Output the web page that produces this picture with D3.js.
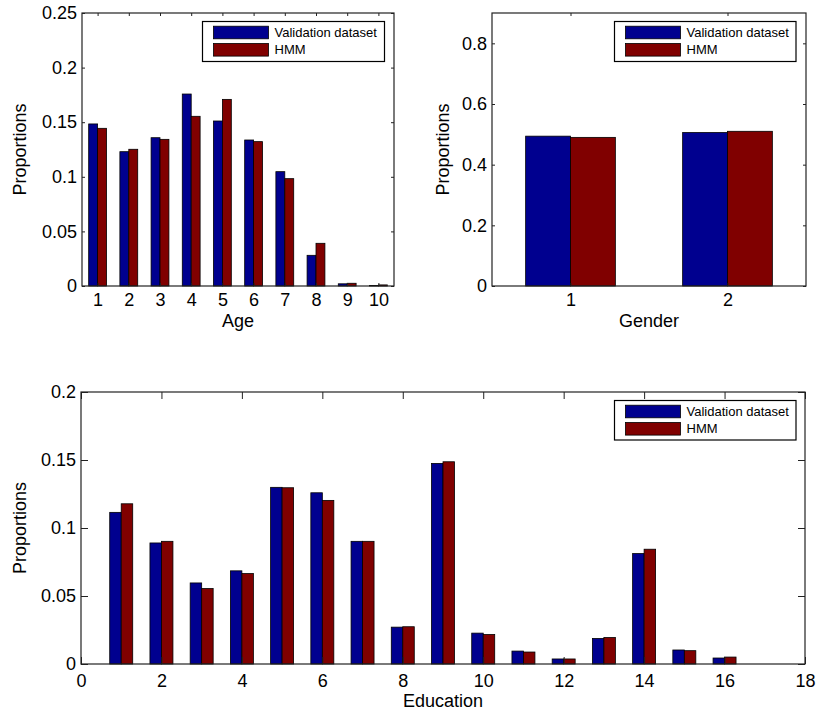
<!DOCTYPE html>
<html>
<head>
<meta charset="utf-8">
<script src="https://cdn.jsdelivr.net/npm/d3@7"></script>
<style>
  body { margin: 0; background: #fff; }
  text { font-family: "Liberation Sans", Arial, Helvetica, sans-serif; fill: #000; }
</style>
</head>
<body>
<svg width="816" height="713"></svg>
<script>
'use strict';

// data
var seriesNames = ['Validation dataset', 'HMM'];
var seriesColors = ['#00008f', '#800000'];

var ageCats = [1, 2, 3, 4, 5, 6, 7, 8, 9, 10];
var ageValidation = [0.1484, 0.1230, 0.1358, 0.1758, 0.1511, 0.1337, 0.1047, 0.0281, 0.0020, 0.0005];
var ageHmm = [0.1444, 0.1252, 0.1343, 0.1554, 0.1709, 0.1322, 0.0983, 0.0391, 0.0025, 0.0010];
var ageXTicks = [1, 2, 3, 4, 5, 6, 7, 8, 9, 10];
var ageYTicks = [0, 0.05, 0.1, 0.15, 0.2, 0.25];

var genderCats = [1, 2];
var genderValidation = [0.494, 0.506];
var genderHmm = [0.490, 0.510];
var genderXTicks = [1, 2];
var genderYTicks = [0, 0.2, 0.4, 0.6, 0.8];

var eduCats = [1, 2, 3, 4, 5, 6, 7, 8, 9, 10, 11, 12, 13, 14, 15, 16];
var eduValidation = [0.1115, 0.0890, 0.0596, 0.0685, 0.1299, 0.1259, 0.0902, 0.0271,
  0.1475, 0.0227, 0.0095, 0.0037, 0.0188, 0.0812, 0.0103, 0.0044];
var eduHmm = [0.1178, 0.0902, 0.0555, 0.0665, 0.1296, 0.1203, 0.0902, 0.0274,
  0.1487, 0.0217, 0.0088, 0.0037, 0.0195, 0.0844, 0.0098, 0.0051];
var eduXTicks = [0, 2, 4, 6, 8, 10, 12, 14, 16, 18];
var eduYTicks = [0, 0.05, 0.1, 0.15, 0.2];

var svg = d3.select('svg');
var barW = 2 / 7; // each bar, in x units (matlab grouped bar)
var fontSize = '18px';

function fmt(d) { return String(+d.toFixed(3)); }

function panel(p) {
  var x = d3.scaleLinear().domain(p.xDomain).range([p.left, p.right]);
  var y = d3.scaleLinear().domain(p.yDomain).range([p.bottom, p.top]);
  var g = svg.append('g');

  var rows = p.cats.map(function (c, i) { return { c: c, v: [p.a[i], p.b[i]] }; });
  [0, 1].forEach(function (s) {
    g.append('g').selectAll('rect')
      .data(rows)
      .enter()
      .append('rect')
      .attr('x', function (d) { return x(d.c + (s - 1) * barW); })
      .attr('y', function (d) { return y(d.v[s]); })
      .attr('width', function (d) { return x(d.c + s * barW) - x(d.c + (s - 1) * barW); })
      .attr('height', function (d) { return y(0) - y(d.v[s]); })
      .attr('fill', seriesColors[s])
      .attr('stroke', '#000')
      .attr('stroke-width', 0.8);
  });

  var tl = p.tickLen;
  function styleAxis(sel) {
    sel.select('.domain').remove();
    sel.selectAll('line').attr('stroke', '#222');
    sel.selectAll('text').style('font-size', fontSize)
      .style('font-family', '"Liberation Sans", Arial, Helvetica, sans-serif');
  }

  g.append('g').attr('transform', 'translate(0,' + p.bottom + ')')
    .call(d3.axisBottom(x).tickValues(p.xTicks).tickFormat(fmt).tickSizeInner(-tl).tickSizeOuter(0).tickPadding(p.xPad))
    .call(styleAxis);
  g.append('g').attr('transform', 'translate(0,' + p.top + ')')
    .call(d3.axisTop(x).tickValues(p.xTicks).tickFormat('').tickSizeInner(-tl).tickSizeOuter(0))
    .call(styleAxis);
  g.append('g').attr('transform', 'translate(' + p.left + ',0)')
    .call(d3.axisLeft(y).tickValues(p.yTicks).tickFormat(fmt).tickSizeInner(-tl).tickSizeOuter(0).tickPadding(5))
    .call(styleAxis);
  g.append('g').attr('transform', 'translate(' + p.right + ',0)')
    .call(d3.axisRight(y).tickValues(p.yTicks).tickFormat('').tickSizeInner(-tl).tickSizeOuter(0))
    .call(styleAxis);

  g.append('rect')
    .attr('x', p.left).attr('y', p.top)
    .attr('width', p.right - p.left).attr('height', p.bottom - p.top)
    .attr('fill', 'none').attr('stroke', '#222').attr('stroke-width', 1.2);

  g.append('text')
    .attr('x', (p.left + p.right) / 2)
    .attr('y', p.xLabelY)
    .attr('text-anchor', 'middle')
    .style('font-size', fontSize)
    .text(p.xLabel);

  g.append('text')
    .attr('transform', 'translate(' + p.yLabelX + ',' + (p.top + p.bottom) / 2 + ') rotate(-90)')
    .attr('text-anchor', 'middle')
    .style('font-size', fontSize)
    .text('Proportions');

  // legend
  var L = p.legend;
  var lg = g.append('g').attr('transform', 'translate(' + L.x + ',' + L.y + ')');
  lg.append('rect').attr('width', L.w).attr('height', L.h)
    .attr('fill', '#fff').attr('stroke', '#000').attr('stroke-width', 1.2);
  var item = lg.selectAll('g.item')
    .data(seriesNames)
    .enter()
    .append('g')
    .attr('class', 'item')
    .attr('transform', function (d, i) { return 'translate(0,' + (11 + i * 17.3) + ')'; });
  item.append('rect')
    .attr('x', 11).attr('y', -6.3)
    .attr('width', 55).attr('height', 12.6)
    .attr('fill', function (d, i) { return seriesColors[i]; })
    .attr('stroke', '#000').attr('stroke-width', 0.8);
  item.append('text')
    .attr('x', 72)
    .attr('dy', '0.35em')
    .style('font-size', '13px')
    .text(function (d) { return d; });
}

panel({
  left: 82, right: 394, top: 13, bottom: 286,
  xDomain: [0.5, 10.5], yDomain: [0, 0.25],
  cats: ageCats, a: ageValidation, b: ageHmm,
  xTicks: ageXTicks, yTicks: ageYTicks, tickLen: 3, xPad: 7,
  xLabel: 'Age', xLabelY: 327, yLabelX: 26,
  legend: { x: 202.5, y: 21.5, w: 182, h: 40 }
});

panel({
  left: 492, right: 806, top: 13, bottom: 286,
  xDomain: [0.5, 2.5], yDomain: [0, 0.9],
  cats: genderCats, a: genderValidation, b: genderHmm,
  xTicks: genderXTicks, yTicks: genderYTicks, tickLen: 3, xPad: 7,
  xLabel: 'Gender', xLabelY: 327, yLabelX: 449,
  legend: { x: 614.5, y: 21.5, w: 181.5, h: 40 }
});

panel({
  left: 81, right: 805, top: 392, bottom: 664,
  xDomain: [0, 18], yDomain: [0, 0.2],
  cats: eduCats, a: eduValidation, b: eduHmm,
  xTicks: eduXTicks, yTicks: eduYTicks, tickLen: 7, xPad: 10,
  xLabel: 'Education', xLabelY: 707, yLabelX: 26,
  legend: { x: 614.5, y: 400.5, w: 181.5, h: 39.5 }
});
</script>
</body>
</html>
